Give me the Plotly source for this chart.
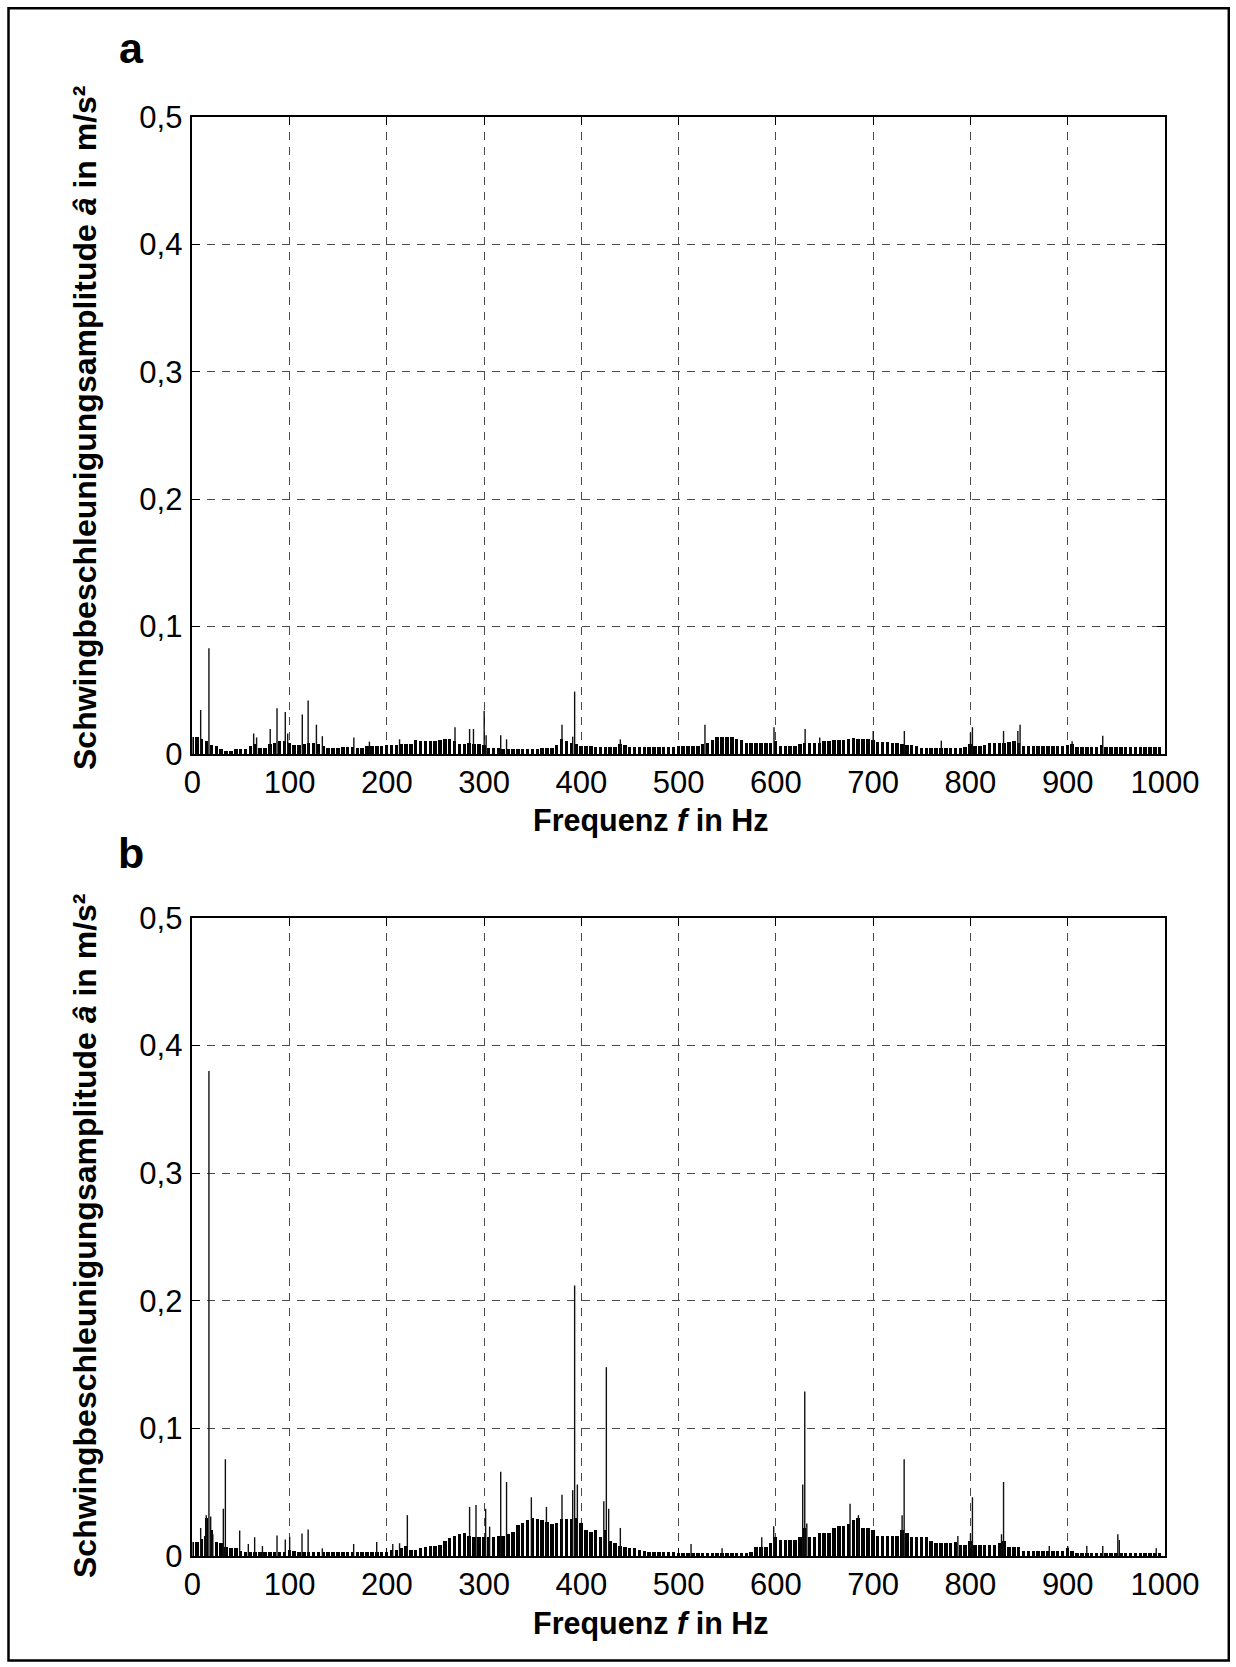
import plotly.graph_objects as go

# Figure kept a little smaller than the 1236x1667 window so the page never overflows.
W, H = 1230, 1662

# ---------------- data ----------------
base_freq = list(range(0, 1000, 5))  # Hz, comb of the broadband floor

base_a = [
    0.013, 0.013, 0.012, 0.010, 0.007, 0.006, 0.004, 0.0026, 0.0026, 0.0037,   # 0-45
    0.0037, 0.0037, 0.006, 0.008, 0.005, 0.005, 0.008, 0.009, 0.010, 0.010,    # 50-95
    0.009, 0.007, 0.007, 0.008, 0.009, 0.009, 0.008, 0.006, 0.005, 0.005,      # 100-145
    0.005, 0.0057, 0.0057, 0.0057, 0.005, 0.005, 0.006, 0.0063, 0.0063, 0.0063, # 150-195
    0.007, 0.007, 0.007, 0.008, 0.008, 0.008, 0.011, 0.010, 0.0105, 0.0105,    # 200-245
    0.0105, 0.011, 0.0115, 0.0115, 0.010, 0.008, 0.008, 0.009, 0.008, 0.008,   # 250-295
    0.007, 0.0045, 0.0045, 0.0045, 0.004, 0.0037, 0.0037, 0.0037, 0.0037, 0.0037, # 300-345
    0.004, 0.004, 0.0045, 0.005, 0.005, 0.007, 0.012, 0.010, 0.009, 0.008,     # 350-395
    0.0065, 0.006, 0.006, 0.0058, 0.0058, 0.0058, 0.0058, 0.0058, 0.008, 0.007, # 400-445
    0.0055, 0.0052, 0.0052, 0.0052, 0.0052, 0.0052, 0.0052, 0.0052, 0.0055, 0.0055, # 450-495
    0.0065, 0.0065, 0.0065, 0.0065, 0.0065, 0.008, 0.009, 0.011, 0.013, 0.013, # 500-545
    0.0135, 0.013, 0.012, 0.011, 0.0085, 0.0084, 0.0084, 0.0084, 0.0084, 0.009, # 550-595
    0.010, 0.0065, 0.0065, 0.0065, 0.0065, 0.0075, 0.009, 0.0084, 0.0084, 0.009, # 600-645
    0.0105, 0.0105, 0.011, 0.011, 0.011, 0.012, 0.0125, 0.0115, 0.0115, 0.0115, # 650-695
    0.011, 0.0097, 0.0097, 0.0097, 0.009, 0.009, 0.008, 0.0068, 0.0068, 0.006,  # 700-745
    0.005, 0.005, 0.005, 0.005, 0.005, 0.005, 0.005, 0.005, 0.005, 0.0055,     # 750-795
    0.008, 0.0065, 0.0065, 0.007, 0.0084, 0.0084, 0.0084, 0.009, 0.0097, 0.010, # 800-845
    0.009, 0.0065, 0.0065, 0.0065, 0.0065, 0.0065, 0.0065, 0.0065, 0.0065, 0.0065, # 850-895
    0.007, 0.0075, 0.0052, 0.0052, 0.0052, 0.0052, 0.0055, 0.007, 0.0052, 0.0052, # 900-945
    0.0052, 0.0052, 0.0052, 0.0052, 0.0052, 0.0052, 0.0052, 0.0052, 0.0058, 0.0058, # 950-995
]

base_b = [
    0.011, 0.011, 0.013, 0.030, 0.020, 0.011, 0.010, 0.007, 0.006, 0.006,      # 0-45
    0.004, 0.0034, 0.0034, 0.0034, 0.0034, 0.0034, 0.0034, 0.0034, 0.0034, 0.0034, # 50-95
    0.005, 0.004, 0.0034, 0.0034, 0.0034, 0.0034, 0.0034, 0.0034, 0.0034, 0.0034, # 100-145
    0.0034, 0.0034, 0.0034, 0.0034, 0.0034, 0.0034, 0.0034, 0.0034, 0.0034, 0.0034, # 150-195
    0.0034, 0.005, 0.005, 0.006, 0.008, 0.005, 0.005, 0.0065, 0.007, 0.0075,   # 200-245
    0.008, 0.009, 0.012, 0.014, 0.016, 0.017, 0.018, 0.016, 0.015, 0.015,      # 250-295
    0.015, 0.015, 0.015, 0.016, 0.016, 0.017, 0.019, 0.024, 0.026, 0.028,      # 300-345
    0.030, 0.029, 0.028, 0.027, 0.025, 0.026, 0.029, 0.029, 0.029, 0.030,      # 350-395
    0.026, 0.020, 0.019, 0.020, 0.015, 0.020, 0.012, 0.010, 0.008, 0.007,      # 400-445
    0.006, 0.006, 0.005, 0.004, 0.0034, 0.0034, 0.0034, 0.0034, 0.0034, 0.0034, # 450-495
    0.0026, 0.0026, 0.0026, 0.0026, 0.0026, 0.0026, 0.0026, 0.0026, 0.0026, 0.0026, # 500-545
    0.0026, 0.0026, 0.0026, 0.0026, 0.0026, 0.003, 0.0073, 0.0073, 0.0073, 0.010, # 550-595
    0.015, 0.0125, 0.0125, 0.0125, 0.0125, 0.015, 0.022, 0.0146, 0.0146, 0.018, # 600-645
    0.018, 0.018, 0.022, 0.0234, 0.0234, 0.025, 0.028, 0.030, 0.0216, 0.0216,  # 650-695
    0.020, 0.0159, 0.0159, 0.0159, 0.0159, 0.0159, 0.020, 0.018, 0.0146, 0.0146, # 700-745
    0.0146, 0.0146, 0.012, 0.010, 0.010, 0.010, 0.010, 0.011, 0.0086, 0.0086,  # 750-795
    0.012, 0.0086, 0.0086, 0.0086, 0.0086, 0.0086, 0.010, 0.012, 0.0068, 0.0068, # 800-845
    0.0068, 0.0042, 0.0042, 0.0042, 0.0042, 0.0042, 0.0042, 0.0042, 0.0042, 0.0042, # 850-895
    0.006, 0.004, 0.0026, 0.0026, 0.0026, 0.0026, 0.0026, 0.0026, 0.0026, 0.0026, # 900-945
    0.0026, 0.0026, 0.0026, 0.0026, 0.0026, 0.0026, 0.0026, 0.0026, 0.0026, 0.0026, # 950-995
]

peak_freq_a = [8.5, 17, 63, 66, 80, 87, 95.5, 98, 113, 119, 127.5, 133.6, 166, 182,
               213, 270, 285, 289, 300, 302, 317, 323, 380, 391, 393, 440, 527, 598,
               630, 645, 700, 732, 770, 800, 802, 834, 848.7, 851, 904.5, 936]
peak_amp_a = [0.0346, 0.083, 0.016, 0.013, 0.0196, 0.036, 0.033, 0.016, 0.031, 0.042,
              0.023, 0.014, 0.013, 0.0097, 0.0115, 0.021, 0.0196, 0.0196, 0.034, 0.0147,
              0.0147, 0.0115, 0.023, 0.0136, 0.049, 0.0115, 0.023, 0.021, 0.0196, 0.013,
              0.018, 0.018, 0.0105, 0.0168, 0.021, 0.018, 0.018, 0.023, 0.010, 0.0144]

peak_freq_b = [8.5, 12.6, 14.3, 17, 18.8, 21, 31.8, 33.9, 48.6, 57.5, 64, 72, 87, 95.5,
               100, 112.7, 119, 133.6, 165.8, 189.5, 206, 213, 221, 285, 291.6, 301.5,
               305.6, 317, 323, 348.5, 364, 380, 391, 393, 395.8, 423, 425.6, 428, 440,
               512.7, 544.6, 585.4, 597.7, 627.5, 629.6, 631.7, 676.2, 684.8, 729.7,
               731.8, 787, 800, 802, 831.9, 834, 881, 900, 919.6, 936, 951.5, 953, 991]
peak_amp_b = [0.022, 0.0156, 0.032, 0.38, 0.031, 0.017, 0.037, 0.0758, 0.020, 0.0094,
              0.0146, 0.0078, 0.016, 0.013, 0.015, 0.0177, 0.0208, 0.006, 0.0094, 0.011,
              0.0094, 0.010, 0.032, 0.0385, 0.040, 0.037, 0.023, 0.066, 0.058, 0.046,
              0.0385, 0.048, 0.0516, 0.212, 0.056, 0.043, 0.148, 0.037, 0.022, 0.0094,
              0.006, 0.0146, 0.0234, 0.056, 0.129, 0.0255, 0.041, 0.032, 0.032, 0.0758,
              0.0156, 0.0177, 0.046, 0.017, 0.058, 0.0078, 0.0078, 0.0078, 0.0078, 0.017,
              0.0125, 0.006]

x_ticks = [0, 100, 200, 300, 400, 500, 600, 700, 800, 900, 1000]
y_ticks = [0, 0.1, 0.2, 0.3, 0.4, 0.5]
y_tick_text = ["0", "0,1", "0,2", "0,3", "0,4", "0,5"]

panel_labels = ["a", "b"]
x_title = "Frequenz <i>f</i> in Hz"
y_title = "Schwingbeschleunigungsamplitude <i>â</i> in m/s²"

# ---------------- figure ----------------
FONT = "Liberation Sans, Arial, sans-serif"


def px_x(p):  # page pixel -> paper fraction
    return p / W


def px_y(p):
    return 1 - p / H


fig = go.Figure()


def stems(freqs, amps):
    xs, ys = [], []
    for f, a in zip(freqs, amps):
        xs += [f, f, None]
        ys += [0, a, None]
    return xs, ys


for i, (base, pf, pa) in enumerate([(base_a, peak_freq_a, peak_amp_a),
                                      (base_b, peak_freq_b, peak_amp_b)]):
    xa = "x" if i == 0 else "x2"
    ya = "y" if i == 0 else "y2"
    fig.add_trace(go.Bar(x=base_freq, y=base, width=3.6, marker=dict(color="black", line=dict(width=0)),
                         xaxis=xa, yaxis=ya, showlegend=False, hoverinfo="skip"))
    sx, sy = stems(pf, pa)
    fig.add_trace(go.Scatter(x=sx, y=sy, mode="lines", line=dict(color="#111111", width=1.4),
                             xaxis=xa, yaxis=ya, showlegend=False, hoverinfo="skip"))

x_dom = [px_x(192.4), px_x(1165)]
dom_a = [px_y(754), px_y(117)]
dom_b = [px_y(1556), px_y(918)]

axis_common = dict(showline=True, linecolor="black", linewidth=1.6, mirror="ticks",
                   ticks="inside", ticklen=8, tickwidth=1.2, tickcolor="black",
                   showgrid=True, gridcolor="#4a4a4a", gridwidth=1, griddash="8px,7px",
                   zeroline=False, tickfont=dict(family=FONT, size=31, color="black"))

xaxis_cfg = dict(axis_common, range=[0, 1000], tickvals=x_ticks, domain=x_dom, ticklabelstandoff=0)
yaxis_cfg = dict(axis_common, range=[0, 0.5], tickvals=y_ticks, ticktext=y_tick_text,
                 ticklabelstandoff=2)

fig.update_layout(
    width=W, height=H, margin=dict(l=0, r=0, t=0, b=0, autoexpand=False),
    paper_bgcolor="white", plot_bgcolor="white",
    barmode="overlay", bargap=0,
    xaxis=dict(xaxis_cfg, anchor="y"),
    yaxis=dict(yaxis_cfg, domain=dom_a, anchor="x"),
    xaxis2=dict(xaxis_cfg, anchor="y2"),
    yaxis2=dict(yaxis_cfg, domain=dom_b, anchor="x2"),
)

ann = []
for lbl, ly in zip(panel_labels, [48, 853]):
    ann.append(dict(text=f"<b>{lbl}</b>", x=px_x(131), y=px_y(ly), xref="paper", yref="paper",
                    showarrow=False, xanchor="center", yanchor="middle",
                    font=dict(family=FONT, size=43, color="black")))
for cy in [820, 1623]:
    ann.append(dict(text=f"<b>{x_title}</b>", x=px_x(651), y=px_y(cy), xref="paper", yref="paper",
                    showarrow=False, xanchor="center", yanchor="middle",
                    font=dict(family=FONT, size=30.5, color="black")))
for cy in [428, 1236]:
    ann.append(dict(text=f"<b>{y_title}</b>", x=px_x(85), y=px_y(cy), xref="paper", yref="paper",
                    showarrow=False, xanchor="center", yanchor="middle", textangle=-90,
                    font=dict(family=FONT, size=32, color="black")))
fig.update_layout(annotations=ann)

# outer frame of the figure
fig.add_shape(type="rect", xref="paper", yref="paper",
              x0=px_x(8.5), x1=px_x(1228.8), y0=px_y(1660.5), y1=px_y(8.2),
              line=dict(color="black", width=2.5))

fig.write_html("out.html", config={"displayModeBar": False})
